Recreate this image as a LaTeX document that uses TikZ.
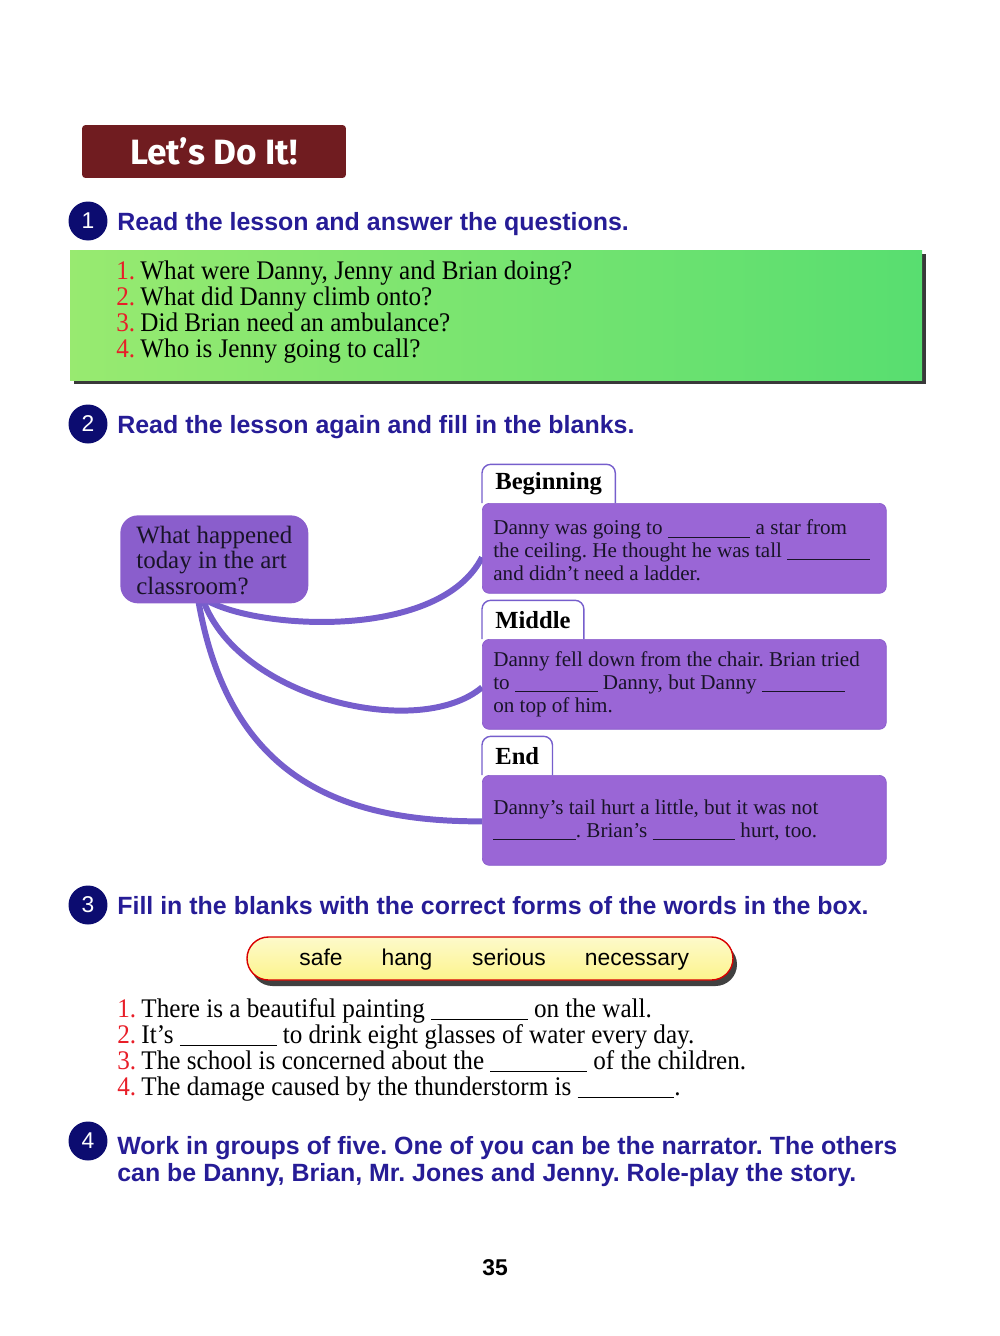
\documentclass[tikz,border=0pt]{standalone}
\usepackage{fontspec}
\setmainfont{Liberation Serif}
\setsansfont{Liberation Sans}
\newfontfamily\narrowserif[FakeStretch=0.935]{Liberation Serif}
\newfontfamily\titlefont{Fira Sans}
\usetikzlibrary{positioning,calc,backgrounds}

\definecolor{maroon}{RGB}{112,28,32}
\definecolor{navy}{RGB}{12,12,112}
\definecolor{headblue}{RGB}{38,28,150}
\definecolor{numred}{RGB}{232,30,40}
\definecolor{leafA}{RGB}{152,234,112}
\definecolor{leafB}{RGB}{88,222,112}
\definecolor{plum}{RGB}{154,102,214}
\definecolor{plumdark}{RGB}{138,94,204}
\definecolor{plumline}{RGB}{118,94,204}
\definecolor{lemon}{RGB}{252,244,140}
\definecolor{inkdark}{RGB}{25,20,40}

\tikzset{
  numdot/.style={circle, fill=navy, text=white, inner sep=0pt, minimum size=0.78cm,
    font=\sffamily\fontsize{13}{13}\selectfont},
  heading/.style={anchor=base west, text=headblue, inner sep=0pt,
    font=\frenchspacing\sffamily\bfseries\fontsize{14.2}{15}\selectfont},
  storybox/.style={fill=plum, draw=plumdark, rounded corners=4pt, anchor=north west,
    minimum width=8.08cm, minimum height=1.8cm, inner sep=0pt},
  storytext/.style={anchor=west, align=left, inner sep=0pt, text=inkdark,
    font=\frenchspacing\fontsize{12}{13}\selectfont},
  tabbox/.style={fill=white, anchor=south west, minimum height=0.76cm, inner xsep=0.26cm,
    font=\bfseries\fontsize{14}{14}\selectfont},
  link/.style={draw=plumline, line width=3.4pt},
  line/.style={anchor=base west, inner sep=0pt, text=black,
    font=\frenchspacing\narrowserif\fontsize{15.3}{16}\selectfont},
}
\newcommand{\blank}{\rule[-1.5pt]{47pt}{0.5pt}}
\newcommand{\longblank}{\rule[-1.5pt]{55pt}{0.5pt}}

\begin{document}
\begin{tikzpicture}[x=0.02cm, y=-0.02cm]
\useasboundingbox (0,0) rectangle (1000,1336);

% title
\node[fill=maroon, rounded corners=2pt, minimum width=5.28cm, minimum height=1.06cm, text=white,
  font=\titlefont\bfseries\fontsize{20}{20}\selectfont] (lets) at (214,151.5) {Let’s Do It!};

% part 1
\node[numdot] (n1) at (88,221) {1};
\node[heading] (h1) at (117,230) {Read the lesson and answer the questions.};

\fill[gray!45!black] (74,254) rectangle (926,384);
\shade[left color=leafA, right color=leafB] (70,250) rectangle (922,380);
\foreach \i/\q in {1/{What were Danny, Jenny and Brian doing?}, 2/{What did Danny climb onto?},
  3/{Did Brian need an ambulance?}, 4/{Who is Jenny going to call?}}
  \node[line] (ask\i) at (116,253+26*\i) {\textcolor{numred}{\i.}\hspace{3pt}\q};

% part 2
\node[numdot] (n2) at (88,424) {2};
\node[heading] (h2) at (117,433) {Read the lesson again and fill in the blanks.};

\node[fill=plumdark, rounded corners=10pt, anchor=north west, minimum width=3.76cm,
  minimum height=1.76cm, inner sep=0pt] (what) at (120,515) {};
\node[anchor=west, align=left, inner sep=0pt, text=inkdark, font=\fontsize{14.2}{14.5}\selectfont]
  (whattext) at ($(what.west)+(16,1)$) {What happened\\today in the art\\classroom?};

\node[storybox] (beg) at (482,503) {};
\node[storybox] (mid) at (482,639) {};
\node[storybox] (fin) at (482,775) {};
\node[storytext] (begtext) at ($(beg.west)+(11,2)$) {Danny was going to \blank\ a star from\\
  the ceiling. He thought he was tall \blank\\ and didn’t need a ladder.};
\node[storytext] (midtext) at ($(mid.west)+(11,0)$) {Danny fell down from the chair. Brian tried\\
  to \blank\ Danny, but Danny \blank\\ on top of him.};
\node[storytext] (fintext) at ($(fin.west)+(11,0)$) {Danny’s tail hurt a little, but it was not\\
  \blank. Brian’s \blank\ hurt, too.};

\node[tabbox] (tbeg) at (beg.north west) {Beginning};
\node[tabbox] (tmid) at (mid.north west) {Middle};
\node[tabbox] (tfin) at (fin.north west) {End};
\foreach \t in {tbeg,tmid,tfin}
  \draw[plumline, thick, rounded corners=5pt] (\t.south west) -- (\t.north west) -- (\t.north east) -- (\t.south east);

\begin{scope}[on background layer]
\draw[link] ($(what.south)+(-7,-3)$) .. controls (260,630) and (440,640) .. ($(beg.west)+(0,9)$);
\draw[link] ($(what.south)+(-11,-3)$) .. controls (240,700) and (420,740) .. ($(mid.west)+(0,3)$);
\draw[link] ($(what.south)+(-16,-3)$) .. controls (228,770) and (330,822) .. ($(fin.west)+(0,1)$);
\end{scope}

% part 3
\node[numdot] (n3) at (88,905) {3};
\node[heading] (h3) at (117,914) {Fill in the blanks with the correct forms of the words in the box.};

\fill[gray!50!black, rounded corners=0.43cm] (251,943) rectangle (737,986);
\shade[top color=lemon!45!white, bottom color=lemon, draw=red!85!black, thick, rounded corners=0.43cm]
  (247,937) rectangle (733,980);
\foreach \w/\x in {safe/321, hang/407, serious/509, necessary/637}
  \node[anchor=base, inner sep=0pt, font=\sffamily\fontsize{13}{13}\selectfont] (w\w) at (\x,965) {\w};

\node[line] (fill1) at (117,1017) {\textcolor{numred}{1.}\hspace{3pt}There is a beautiful painting \longblank\ on the wall.};
\node[line] (fill2) at (117,1043) {\textcolor{numred}{2.}\hspace{3pt}It’s \longblank\ to drink eight glasses of water every day.};
\node[line] (fill3) at (117,1069) {\textcolor{numred}{3.}\hspace{3pt}The school is concerned about the \longblank\ of the children.};
\node[line] (fill4) at (117,1095) {\textcolor{numred}{4.}\hspace{3pt}The damage caused by the thunderstorm is \longblank.};

% part 4
\node[numdot] (n4) at (88,1141) {4};
\node[heading] (h4a) at (117,1154) {Work in groups of five. One of you can be the narrator. The others};
\node[heading] (h4b) at (117,1181) {can be Danny, Brian, Mr. Jones and Jenny. Role-play the story.};

\node[anchor=base, inner sep=0pt, font=\sffamily\bfseries\fontsize{13}{13}\selectfont] (pagenum) at (495,1275) {35};
\end{tikzpicture}
\end{document}
